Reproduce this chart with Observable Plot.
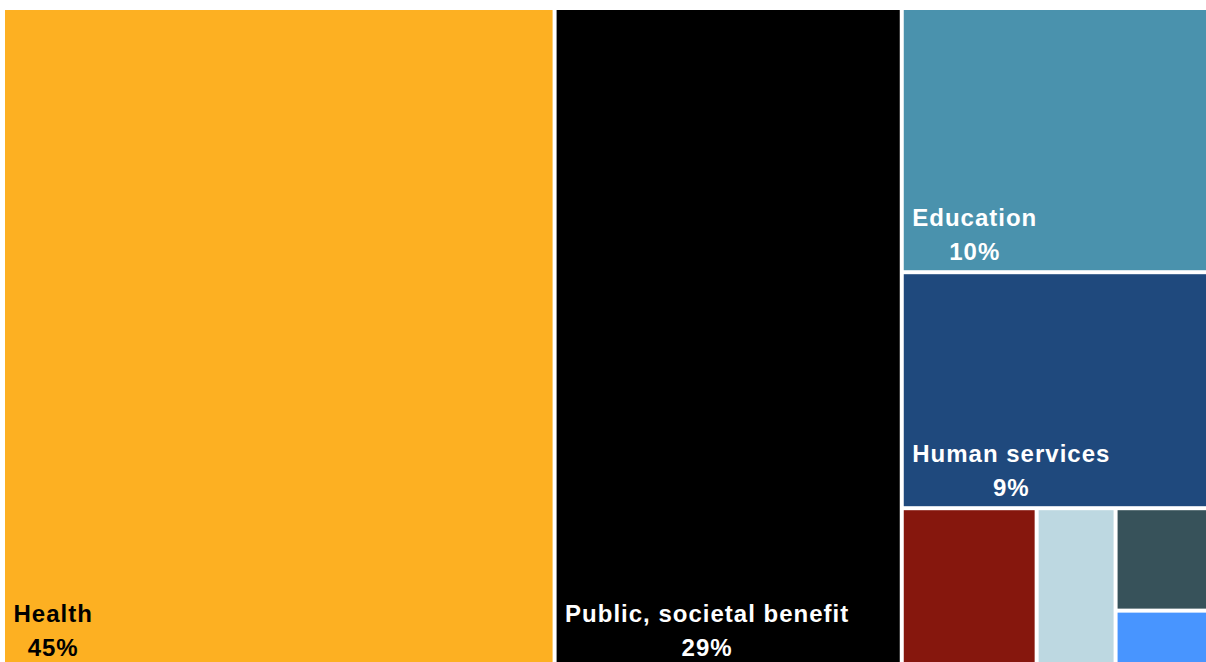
<!DOCTYPE html>
<html><head><meta charset="utf-8">
<script src="https://cdn.jsdelivr.net/npm/d3@7"></script>
<script src="https://cdn.jsdelivr.net/npm/@observablehq/plot@0.6"></script>
<style>
html,body{margin:0;padding:0;background:#fff;overflow:hidden}
svg text{letter-spacing:1px}
</style>
</head><body><div id="chart"></div>
<script>
const categories = ["Health","Public, societal benefit","Education","Human services","Category 5","Category 6","Category 7","Category 8"];
const shares = [45.6, 28.7, 10.3, 9.2, 2.7, 1.58, 1.25, 0.7];
const pctLabels = ["45%","29%","10%","9%","","","",""];
const showLabel = [true,true,true,true,false,false,false,false];
const colors = ["#FDB022","#000000","#4A92AD","#1F497D","#86170D","#BDD8E1","#37525A","#4895FF"];
const textColors = ["#000000","#ffffff","#ffffff","#ffffff","#ffffff","#ffffff","#ffffff","#ffffff"];
// split direction for each successive cell: "x" = column on the left, "y" = row on top
const splitOrder = ["x","x","y","y","x","x","y","y"];

const W = 1206, H = 656;
function spiralTile(parent, x0, y0, x1, y1) {
  let rest = parent.value;
  parent.children.forEach((n, k) => {
    const f = rest > 0 ? n.value / rest : 0;
    if (splitOrder[k] === "x") {
      n.x0 = x0; n.y0 = y0; n.y1 = y1; x0 += (x1 - x0) * f; n.x1 = x0;
    } else {
      n.x0 = x0; n.x1 = x1; n.y0 = y0; y0 += (y1 - y0) * f; n.y1 = y0;
    }
    rest -= n.value;
  });
}
const root = d3.hierarchy({children: categories.map((c, i) => ({name: c, value: shares[i], i}))})
  .sum(d => d.value)
  .sort((a, b) => b.value - a.value);
d3.treemap().size([W, H]).paddingInner(4).tile(spiralTile)(root);

const ctx = document.createElement("canvas").getContext("2d");
ctx.font = "bold 24px 'Liberation Sans'";
const cells = root.leaves().map(n => {
  const i = n.data.i;
  const name = n.data.name;
  const w = ctx.measureText(name).width + name.length * 1;
  return {name, label: pctLabels[i], show: showLabel[i], color: colors[i], tc: textColors[i],
          x0: n.x0, x1: n.x1, y0: n.y0, y1: n.y1, cx: n.x0 + 8 + w / 2};
});

const chart = Plot.plot({
  width: 1206, height: 662, margin: 0,
  x: {domain: [0, W], range: [5, 5 + W], axis: null},
  y: {domain: [0, H], range: [10, 10 + H], axis: null},
  color: {type: "identity"},
  marks: [
    Plot.rect(cells, {x1: "x0", x2: "x1", y1: "y0", y2: "y1", fill: "color"}),
    Plot.text(cells.filter(d => d.show), {
      x: "cx", y: "y1", text: d => d.name + "\n" + d.label, fill: "tc",
      textAnchor: "middle", lineAnchor: "bottom", lineHeight: 34 / 24, dy: -11,
      fontSize: 24, fontWeight: "bold", fontFamily: "Liberation Sans"
    })
  ]
});
document.getElementById("chart").appendChild(chart);
</script>
</body></html>
